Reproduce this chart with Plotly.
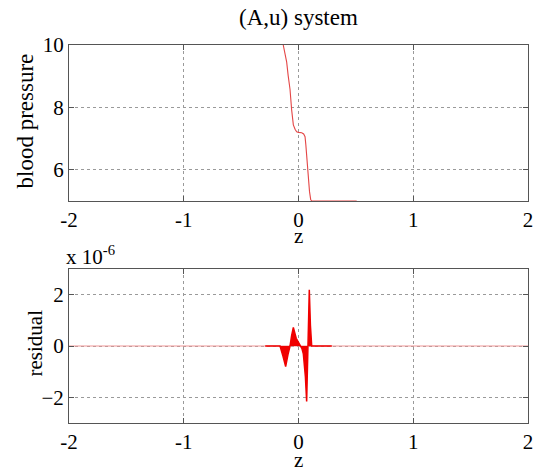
import plotly.graph_objects as go
from plotly.subplots import make_subplots

# ---- data ----
z_bp = [-0.133, -0.12, -0.103, -0.09, -0.074, -0.06, -0.045, -0.03, -0.016, 0.0,
        0.028, 0.045, 0.057, 0.064, 0.071, 0.079, 0.086, 0.096, 0.106, 0.115,
        0.2, 0.3, 0.4, 0.507]
bp = [10.0, 9.72, 9.45, 9.02, 8.58, 7.93, 7.44, 7.3, 7.22, 7.2,
      7.19, 7.15, 7.06, 6.8, 6.41, 6.0, 5.64, 5.3, 5.05, 5.0,
      5.0, 5.0, 5.0, 5.0]

z_base = [-2.0, 2.0]
r_base = [0.0, 0.0]

z_res = [-0.29, -0.161, -0.135, -0.112, -0.09, -0.074, -0.06, -0.045, -0.02, 0.013,
         0.03, 0.042, 0.06, 0.071, 0.08, 0.086, 0.094, 0.104, 0.115, 0.29]
r_res = [0.0, 0.0, -0.4, -0.80, -0.3, 0.0, 0.4, 0.72, 0.3, 0.0,
         -0.1, -0.3, -1.2, -2.16, -0.6, 0.0, 2.19, 0.8, 0.0, 0.0]

x_ticks = [-2, -1, 0, 1, 2]
bp_ticks = [6, 8, 10]
res_ticks = [-2, 0, 2]

FONT = "Liberation Serif"
FS = 21
AX = "#555555"
GRID = "#9a9a9a"

fig = make_subplots(rows=2, cols=1, vertical_spacing=0.0)

fig.add_trace(go.Scatter(x=z_bp, y=bp, mode="lines",
                         line=dict(color="rgb(228,70,70)", width=1.1),
                         showlegend=False), row=1, col=1)
fig.add_trace(go.Scatter(x=z_base, y=r_base, mode="lines",
                         line=dict(color="rgb(240,150,150)", width=1.2),
                         showlegend=False), row=2, col=1)
fig.add_trace(go.Scatter(x=z_res, y=r_res, mode="lines", fill="tozeroy",
                         fillcolor="rgb(240,0,0)",
                         line=dict(color="rgb(240,0,0)", width=1.5),
                         showlegend=False), row=2, col=1)

axis_common = dict(showline=True, linecolor=AX, linewidth=1, mirror="ticks",
                   ticks="inside", ticklen=5, tickcolor=AX,
                   showgrid=True, gridcolor=GRID, griddash="dot", gridwidth=1,
                   zeroline=False, automargin=False, ticklabeloverflow="allow",
                   tickfont=dict(family=FONT, size=FS, color="black"))

fig.update_xaxes(range=[-2, 2], tickvals=x_ticks, ticktext=[str(v) for v in x_ticks],
                 **axis_common)
fig.update_yaxes(**axis_common)
fig.update_yaxes(range=[5, 10], tickvals=bp_ticks, row=1, col=1)
fig.update_yaxes(range=[-3, 3], tickvals=res_ticks, row=2, col=1)

fig.update_layout(
    width=535, height=471,
    margin=dict(l=69, r=7, t=45, b=48, autoexpand=False),
    paper_bgcolor="white", plot_bgcolor="white",
    font=dict(family=FONT, size=FS, color="black"),
    xaxis=dict(domain=[0, 1], anchor="y"),
    yaxis=dict(domain=[0.5873, 1.0]),
    xaxis2=dict(domain=[0, 1], anchor="y2"),
    yaxis2=dict(domain=[0.0, 0.4074]),
)

ann = [
    dict(text="(A,u) system", x=0.5, y=1.074, xanchor="center", yanchor="middle", size=23),
    dict(text="z", x=0.5, y=0.494, xanchor="center", yanchor="middle", size=FS),
    dict(text="z", x=0.5, y=-0.099, xanchor="center", yanchor="middle", size=FS),
    dict(text="blood pressure", x=(26 - 69) / 459, y=0.7976, textangle=-90,
         xanchor="center", yanchor="middle", size=23),
    dict(text="residual", x=(35 - 69) / 459, y=0.2103, textangle=-90,
         xanchor="center", yanchor="middle", size=FS),
    dict(text="x 10<sup>-6</sup>", x=(64 - 69) / 459, y=0.442, xanchor="left",
         yanchor="middle", size=FS),
]
for a in ann:
    s = a.pop("size")
    fig.add_annotation(xref="paper", yref="paper", showarrow=False,
                       font=dict(family=FONT, size=s, color="black"), **a)

fig.write_html("out.html",
               config={"displayModeBar": False},
               post_script="document.body.style.margin='0px';document.body.style.overflow='hidden';")
